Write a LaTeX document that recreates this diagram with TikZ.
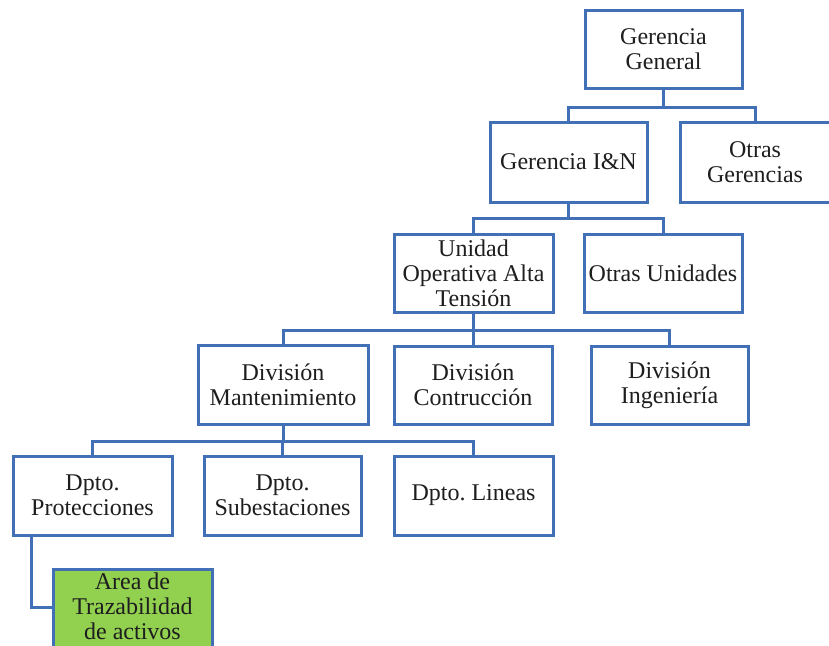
\documentclass[tikz,border=0pt]{standalone}
\usepackage{fontspec}
\setmainfont{Liberation Serif}
\frenchspacing
\definecolor{orgblue}{RGB}{66,112,182}
\definecolor{orggreen}{RGB}{146,208,80}
\definecolor{orgtext}{RGB}{30,30,30}
\begin{document}
\begin{tikzpicture}[x=1pt,y=-1pt,
  unitbox/.style={draw=orgblue,line width=3pt,fill=white,rectangle,align=center,
    inner sep=0pt,text=orgtext,font=\fontsize{24}{25}\selectfont},
  link/.style={draw=orgblue,line width=3pt}]
\clip (0,0) rectangle (829,645);
\fill[white] (0,0) rectangle (829,645);

% boxes: top management
\node[unitbox,minimum width=157,minimum height=78] (gg) at (663.5,49) {Gerencia\\General};
\node[unitbox,minimum width=157,minimum height=80] (gin) at (568.5,162) {Gerencia I\&N};
\node[unitbox,minimum width=150,minimum height=80] (og) at (755,162) {Otras\\Gerencias};
% units
\node[unitbox,minimum width=159,minimum height=78] (uoat) at (473.5,273) {Unidad\\Operativa Alta\\Tensión};
\node[unitbox,minimum width=158,minimum height=78] (ou) at (663,273) {Otras Unidades};
% divisions
\node[unitbox,minimum width=170,minimum height=79] (dm) at (283,384.5) {División\\Mantenimiento};
\node[unitbox,minimum width=158,minimum height=78] (dc) at (473,385) {División\\Contrucción};
\node[unitbox,minimum width=157,minimum height=78] (di) at (669.5,385) {División\\Ingeniería};
% departments
\node[unitbox,minimum width=159,minimum height=79] (dp) at (92.5,495.5) {Dpto.\\Protecciones};
\node[unitbox,minimum width=157,minimum height=79] (ds) at (282.5,495.5) {Dpto.\\Subestaciones};
\node[unitbox,minimum width=159,minimum height=79] (dl) at (473.5,495.5) {Dpto. Lineas};
% area (runs past the lower edge)
\node[unitbox,fill=orggreen,minimum width=159,anchor=north,inner ysep=3pt] (area) at (132.5,568)
  {Area de\\Trazabilidad\\de activos\\ \mbox{}};

% connectors
\draw[link] (gg.south) -- (gg.south |- 0,107) coordinate (b1);
\draw[link] (gin.north) |- (b1) -| (og.north);
\draw[link] (gin.south) -- (gin.south |- 0,218) coordinate (b2);
\draw[link] (uoat.north) |- (b2) -| (ou.north);
\draw[link] (uoat.south) -- (uoat.south |- 0,330) coordinate (b3);
\draw[link] (dm.north) |- (b3) -| (di.north);
\draw[link] (dc.north) -- (dc.north |- b3);
\draw[link] (dm.south) -- (dm.south |- 0,441) coordinate (b4);
\draw[link] (dp.north) |- (b4) -| (dl.north);
\draw[link] (ds.north) -- (ds.north |- b4);
\draw[link] (dp.south -| 31,0) |- (area.west |- 0,607);
\end{tikzpicture}
\end{document}
